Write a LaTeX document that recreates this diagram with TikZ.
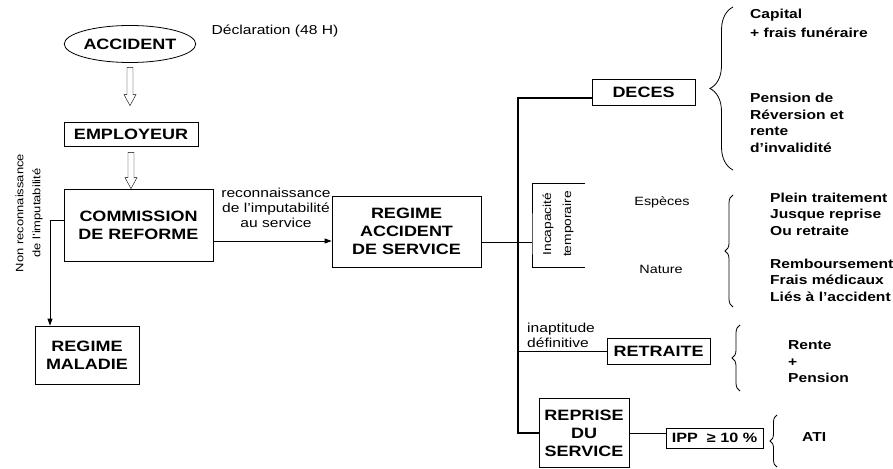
\documentclass[tikz,border=0pt]{standalone}
\usepackage{fontspec}
\setmainfont[FakeStretch=1.2]{Liberation Sans}
\usetikzlibrary{arrows.meta, positioning, shapes.geometric, calc, decorations.pathreplacing}

\begin{document}
\begin{tikzpicture}[x=1pt, y=-1pt,
  box/.style={rectangle, draw, line width=0.8pt, align=center, inner sep=0pt,
              font=\fontsize{15}{18}\selectfont\bfseries},
  arrow/.style={-{Triangle[length=7pt, width=5pt]}, line width=0.8pt},
  trunk/.style={line width=1.6pt},
  hollow/.style args={#1/#2}{line width=0.6pt, to path={
      let \p1=(\tikztostart), \p2=(\tikztotarget) in
      (\x1-3pt,\y1-#1) -- (\x1-3pt,\y2+#2+11pt) -- (\x1-6pt,\y2+#2+11pt)
      -- (\x1,\y2+#2) -- (\x1+6pt,\y2+#2+11pt) -- (\x1+3pt,\y2+#2+11pt)
      -- (\x1+3pt,\y1-#1) -- cycle}},
  lbl/.style={font=\fontsize{13}{15}\selectfont, align=center, inner sep=0pt},
  side/.style={font=\fontsize{13}{16.5}\selectfont\bfseries, align=left,
               anchor=west, inner sep=0pt},
  bracefig/.style={decorate, line width=0.8pt, decoration={brace, amplitude=#1}}
]
  \useasboundingbox (0,0) rectangle (893,468);

  \node[box, ellipse, minimum width=108pt, minimum height=37pt] (acc) at (130,44) {ACCIDENT};
  \node[lbl] (decl) at (275,31) {Déclaration (48 H)};
  \node[box, minimum width=134pt, minimum height=24pt] (emp) at (131,134) {EMPLOYEUR};
  \node[box, minimum width=149pt, minimum height=72pt] (com) at (138.5,225)
    {COMMISSION\\DE REFORME};
  \node[lbl] (recon) at (276,208) {reconnaissance\\de l'imputabilité\\au service};
  \node[box, minimum width=149pt, minimum height=71pt] (ras) at (406.5,231.5)
    {REGIME\\ACCIDENT\\DE SERVICE};
  \node[lbl, rotate=90, font=\fontsize{10.8}{17}\selectfont] (nonrec) at (29,213)
    {Non reconnaissance\\de l'imputabilité};
  \node[box, minimum width=104pt, minimum height=58pt] (mal) at (87,355) {REGIME\\MALADIE};

  \draw (acc.south) to[hollow=4.5pt/16pt] (emp.north);
  \draw (emp.south) to[hollow=6pt/0pt] (com.north);
  \draw[arrow] ([yshift=-16pt]com.east) -- ([yshift=-16pt]com.east -| ras.west);
  \draw[arrow] ([yshift=5pt]com.west) -| ([xshift=-37pt]mal.north);

  \node[box, minimum width=103pt, minimum height=26pt] (deces) at (643.5,92) {DECES};
  \node[box, minimum width=103pt, minimum height=26pt] (retraite) at (658.5,351) {RETRAITE};
  \node[box, minimum width=90pt, minimum height=69pt] (reprise) at (584,433)
    {REPRISE\\DU\\SERVICE};
  \node[box, minimum width=97pt, minimum height=20pt, font=\fontsize{13.5}{16}\selectfont\bfseries]
    (ipp) at (714.5,438) {IPP\ \ ≥ 10 \%};
  \node[lbl, rotate=90, font=\fontsize{11.5}{20}\selectfont] (incap) at (558,224)
    {Incapacité\\temporaire};
  \node[lbl, font=\fontsize{12}{15}\selectfont] (esp) at (662,202) {Espèces};
  \node[lbl, font=\fontsize{12}{15}\selectfont] (nat) at (661,269) {Nature};
  \node[lbl, anchor=west, align=left] (inapt) at (527,335) {inaptitude\\définitive};

  \coordinate (tr) at (518,0);
  \coordinate (itop) at (585,183);
  \coordinate (ibar) at (532,242);
  \coordinate (ibot) at (585,267);
  \draw[trunk] ([yshift=-6pt]deces.west) -| (tr |- reprise.west) -- (reprise.west);
  \draw[line width=0.8pt] (itop) -| (ibar) |- (ibot);
  \draw[line width=0.8pt] ([yshift=-10.5pt]ras.east) -- (ibar);
  \draw[line width=0.8pt] (tr |- retraite.west) -- (retraite.west);
  \draw[line width=0.8pt] (reprise.east) -- (reprise.east -| ipp.west);

  \draw[bracefig=23pt] (733,170) -- (733,7);
  \draw[bracefig=8pt] (733,307) -- (733,195);
  \draw[bracefig=8pt] (740,391) -- (740,325);
  \draw[bracefig=7pt] (777,467) -- (777,415);

  \node[side, font=\fontsize{13}{19}\selectfont\bfseries] (cap) at (750,23.5)
    {Capital\\+ frais funéraire};
  \node[side] (pens) at (750,123) {Pension de\\Réversion et\\rente\\d’invalidité};
  \node[side] (plein) at (770,214) {Plein traitement\\Jusque reprise\\Ou retraite};
  \node[side] (remb) at (770,280) {Remboursement\\Frais médicaux\\Liés à l’accident};
  \node[side] (rente) at (788,362) {Rente\\+\\Pension};
  \node[side] (ati) at (802,437) {ATI};
\end{tikzpicture}
\end{document}
